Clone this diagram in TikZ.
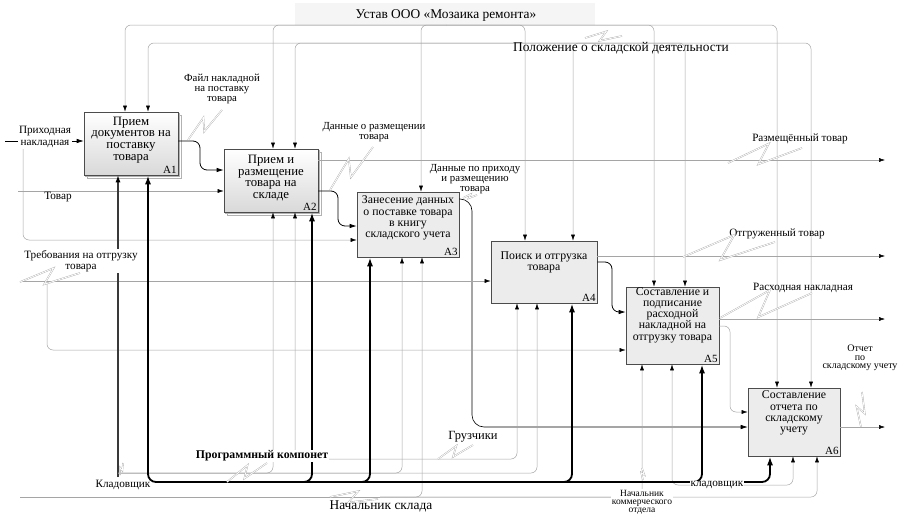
\documentclass[tikz,border=0pt]{standalone}
\usepackage{fontspec}
\setmainfont{Liberation Serif}
\usetikzlibrary{arrows.meta, calc, shadows}
\definecolor{linegray}{RGB}{165,165,165}
\definecolor{boxgray}{RGB}{236,236,236}
\newcommand{\squig}[2]{\draw[tild] (#1) -- ($(#1)!.6!14:(#2)$) -- ($(#1)!.4!-14:(#2)$) -- (#2);}

\begin{document}
\begin{tikzpicture}[x=1pt, y=-1pt,
    box/.style={draw=black!70, fill=boxgray, line width=0.6pt, inner sep=0pt},
    boxsh/.style={box, top color=white, bottom color=gray!30,
      double copy shadow={shadow xshift=1.5pt, shadow yshift=-1.5pt, draw=gray!60, fill=white}},
    boxtxt/.style={align=center, font=\fontsize{11.8}{11.2}\selectfont, inner sep=0pt},
    boxtxtl/.style={boxtxt, font=\fontsize{12.8}{11.8}\selectfont},
    num/.style={anchor=south east, font=\fontsize{11}{11}\selectfont, inner sep=1.5pt},
    lab/.style={align=center, font=\fontsize{11.2}{11.5}\selectfont, inner sep=1pt},
    sml/.style={align=center, font=\fontsize{10.8}{10}\selectfont, inner sep=1pt},
    big/.style={font=\fontsize{13.4}{14}\selectfont, inner sep=1pt},
    ctrl/.style={draw=linegray, line width=0.5pt, -{Latex[length=6pt, width=4pt, color=black]}},
    mechd/.style={draw=gray!45!black, line width=1.2pt, -{Latex[length=7pt, width=5pt, color=black]}},
    flow/.style={draw=black, line width=0.8pt, -{Latex[length=7pt, width=4.5pt]}},
    heavy/.style={draw=black, line width=1.8pt, -{Latex[length=9pt, width=6pt]}},
    tild/.style={draw=linegray, line width=0.35pt, double=white, double distance=0.8pt}
]
\useasboundingbox (0,0) rectangle (905,514);
\fill[gray!8] (295,3) rectangle (595,25);

% Boxes
\node[boxsh, minimum width=94, minimum height=63] (A1) at (131,143.5) {};
\node[boxsh, minimum width=94, minimum height=63] (A2) at (271,180.5) {};
\node[box, minimum width=102, minimum height=65] (A3) at (408,224.5) {};
\node[box, minimum width=106, minimum height=62] (A4) at (544,272) {};
\node[box, minimum width=93, minimum height=77] (A5) at (672.5,325.5) {};
\node[box, minimum width=92, minimum height=68] (A6) at (794,422) {};

\node[boxtxtl] (t1) at (131,140) {Прием\\документов на\\поставку\\товара};
\node[boxtxtl] (t2) at (271,178) {Прием и\\размещение\\товара на\\складе};
\node[boxtxt] (t3) at (408,218) {Занесение данных\\о поставке товара\\в книгу\\складского учета};
\node[boxtxt] (t4) at (544,262) {Поиск и отгрузка\\товара};
\node[boxtxt] (t5) at (672.5,315) {Составление и\\подписание\\расходной\\накладной на\\отгрузку товара};
\node[boxtxt] (t6) at (794,413) {Составление\\отчета по\\складскому\\учету};
\foreach \b in {A1,A2,A3,A4,A5,A6}
  \node[num] at (\b.south east) {\b};

% Controls
\coordinate (ust) at (446,25);
\foreach \x/\b in {125/A1, 273/A2, 421/A3, 525/A4, 654/A5, 777/A6}
  \draw[ctrl, rounded corners=6] (ust) -| (\b.north -| \x,0);
\coordinate (pol) at (600,43);
\foreach \x/\b in {148/A1, 295/A2, 573/A4, 685/A5, 811/A6}
  \draw[ctrl, rounded corners=6] (pol) -| (\b.north -| \x,0);

% Inputs and outputs
\coordinate (in1) at (5,141);
\coordinate (tov) at (18,191);
\coordinate (tov2) at (23,147);
\coordinate (treb) at (20,281);
\coordinate (treb2) at (47,281);
\coordinate (o1) at (885,160);
\coordinate (o2) at (885,256);
\coordinate (o3) at (885,319);
\coordinate (o4) at (885,427);
\draw[flow, line width=0.6pt] (in1) -- (A1.west |- 0,141);
\draw[flow, rounded corners=7] (A1.east |- 0,141) -| (200,170) -- (A2.west |- 0,170);
\draw[ctrl] (tov) -- (A2.west |- 0,191);
\draw[ctrl, rounded corners=6] (tov2) |- (A3.west |- 0,240);
\draw[flow, rounded corners=7] (A2.east |- 0,191) -| (338,226) -- (A3.west |- 0,226);
\draw[ctrl] (A2.east |- 0,160) -- (o1);
\draw[flow, line width=0.6pt, rounded corners=12] (A3.east |- 0,199) -| (472,427) -- (A6.west |- 0,427);
\draw[ctrl] (treb) -- (A4.west |- 0,281);
\draw[ctrl, rounded corners=6] (treb2) |- (A5.west |- 0,350);
\draw[flow, rounded corners=7] (A4.east |- 0,262) -| (612,312) -- (A5.west |- 0,312);
\draw[ctrl] (A4.east |- 0,256) -- (o2);
\draw[ctrl] (A5.east |- 0,319) -- (o3);
\draw[ctrl, rounded corners=6] (A5.east |- 0,326) -| (730,412) -- (A6.west |- 0,412);
\draw[ctrl] (A6.east |- 0,427) -- (o4);

% Mechanisms
\coordinate (kd) at (118,477);
\draw[mechd] (kd) -- (A1.south -| 118,0);
\coordinate (kl) at (118,473);
\foreach \x/\b in {273/A2, 402/A3, 537/A4}
  \draw[ctrl, rounded corners=6] (kl) -| (\b.south -| \x,0);
\coordinate (gr) at (440,459);
\foreach \x/\b in {295/A2, 517/A4}
  \draw[ctrl, rounded corners=6] (gr) -| (\b.south -| \x,0);
\coordinate (nsk) at (20,497);
\coordinate (ns) at (380,497);
\draw[linegray, line width=0.5pt] (nsk) -- (ns);
\foreach \x/\b in {422/A3, 642/A5, 817/A6}
  \draw[ctrl, rounded corners=6] (ns) -| (\b.south -| \x,0);
\coordinate (kr) at (717,485);
\foreach \x/\b in {672/A5, 793/A6}
  \draw[ctrl, rounded corners=6] (kr) -| (\b.south -| \x,0);
\coordinate (pk) at (250,482);
\foreach \x/\b in {148/A1, 312/A2, 370/A3, 572/A4, 702/A5, 770/A6}
  \draw[heavy, rounded corners=8] (pk) -| (\b.south -| \x,0);

% Labels
\node[big] (lust) at (446,15) {Устав ООО «Мозаика ремонта»};
\node[big] (lpol) at (621,48) {Положение о складской деятельности};
\node[lab, fill=white] (lprn) at (45,137) {Приходная\\накладная};
\node[lab] (ltov) at (58,197) {Товар};
\node[lab, fill=white] (ltreb) at (81,261) {Требования на отгрузку\\товара};
\node[sml] (lfile) at (222,89) {Файл накладной\\на поставку\\товара};
\node[sml] (ldat) at (374,132) {Данные о размещении\\товара};
\node[sml] (ldat2) at (475,179) {Данные по приходу\\и размещению\\товара};
\node[lab] (lraz) at (800,139) {Размещённый товар};
\node[lab] (lotg) at (777,234) {Отгруженный товар};
\node[lab] (lras) at (803,288) {Расходная накладная};
\node[sml, font=\fontsize{10}{8.6}\selectfont] (lotc) at (860,358) {Отчет\\по\\складскому учету};
\node[lab, font=\bfseries\fontsize{11.8}{12}\selectfont, fill=white] (lprog) at (262,456) {Программный компонет};
\node[lab] (lkl) at (123,485) {Кладовщик};
\node[big, font=\fontsize{12.5}{13}\selectfont] (lgr) at (473,437) {Грузчики};
\node[big] (lns) at (381,506) {Начальник склада};
\node[sml, font=\fontsize{9.5}{8.2}\selectfont, fill=white, anchor=north] (lnk) at (642,489) {Начальник\\коммерческого\\отдела};
\node[lab, fill=white, inner sep=0.5pt] (lkr) at (717,485) {кладовщик};

% Tildes
\squig{188,140}{222,110}
\squig{330,190}{373,147}
\squig{463,198}{477,195}
\squig{728,163}{802,148}
\squig{683,257}{775,242}
\squig{720,318}{812,293}
\squig{861,427}{862,392}
\squig{20,282}{80,273}
\squig{227,482}{267,463}
\squig{438,459}{473,445}
\squig{330,497}{378,499}
\squig{120,475}{123,463}
\squig{585,38}{622,36}
\squig{642,468}{643,480}
\end{tikzpicture}
\end{document}
